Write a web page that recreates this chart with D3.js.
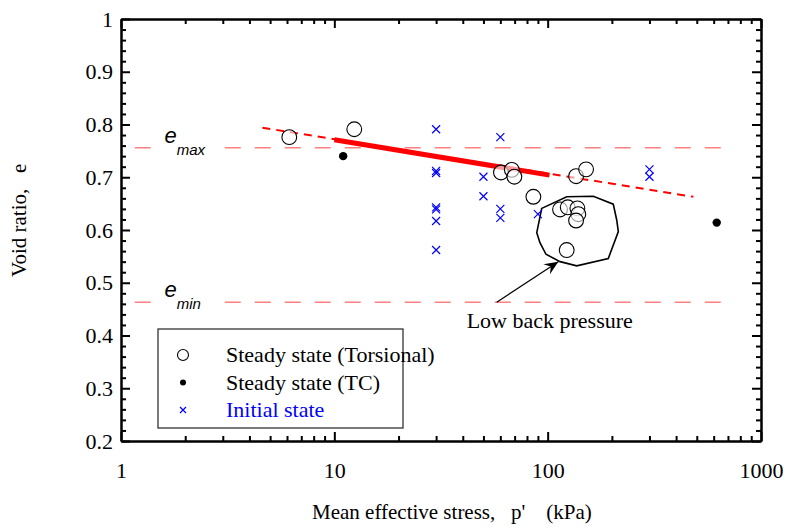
<!DOCTYPE html>
<html>
<head>
<meta charset="utf-8">
<script src="https://cdn.jsdelivr.net/npm/d3@7/dist/d3.min.js"></script>
<style>
  body { margin: 0; background: #fff; }
  svg { display: block; }
  text { font-family: "Liberation Serif", "Times New Roman", serif; }
  .axis path, .axis line { stroke: #000; stroke-width: 2; }
  .axis text { font-size: 22px; fill: #000; }
</style>
</head>
<body>
<svg width="787" height="528"></svg>
<script>
// ---- data ----
var xMajorTicks = [1, 10, 100, 1000];
var yMajorTicks = [0.2, 0.3, 0.4, 0.5, 0.6, 0.7, 0.8, 0.9, 1];

// steady state, torsional tests: [p', e]
var torsional = [
  [6.15, 0.776], [12.4, 0.791], [60.4, 0.709], [67.9, 0.714], [69.8, 0.701],
  [85.7, 0.663], [135.9, 0.702], [151.4, 0.715], [114.3, 0.639], [124.2, 0.643],
  [137.8, 0.641], [139.2, 0.630], [135.9, 0.618], [122.8, 0.562]
];
// steady state, triaxial compression
var triaxial = [[11.0, 0.740], [620, 0.614]];
// initial states
var initial = [
  [30, 0.791], [30, 0.712], [30, 0.708], [30, 0.643], [30, 0.639], [30, 0.617], [30, 0.562],
  [50, 0.701], [50, 0.664],
  [60, 0.776], [60, 0.640], [60, 0.623],
  [90, 0.630],
  [300, 0.715], [300, 0.701]
];

var eMax = 0.756, eMin = 0.463;
var limitRange = [1.16, 690];

var steadyLineDashed = [[4.6, 0.794], [482, 0.663]];
var steadyLineSolid = [[10, 0.771], [102, 0.704]];

// outline around the low back pressure tests
var lowBackOutline = [
  [93.8, 0.641], [122.8, 0.663], [163.7, 0.664], [203, 0.649], [210.7, 0.619],
  [214.4, 0.597], [192.4, 0.546], [136.8, 0.532], [114.3, 0.540], [98.2, 0.554],
  [92, 0.576], [88.9, 0.595]
];
var arrowFrom = [57.7, 0.463], arrowTo = [112.2, 0.540];
var noteAt = [41.7, 0.414];

var legendItems = ["Steady state (Torsional)", "Steady state (TC)", "Initial state"];

// ---- layout ----
var svg = d3.select("svg");
var margin = {top: 19, right: 26, bottom: 87, left: 121},
    width = 787 - margin.left - margin.right,
    height = 528 - margin.top - margin.bottom;

var x = d3.scaleLog().domain([1, 1000]).range([margin.left, margin.left + width]);
var y = d3.scaleLinear().domain([0.2, 1]).range([margin.top + height, margin.top]);

var xMinor = [];
[1, 10, 100].forEach(function(d) { for (var k = 2; k <= 9; k++) xMinor.push(d * k); });
var yMinor = d3.range(0.2, 1.0001, 0.02).filter(function(v) {
  return Math.abs(Math.round(v * 10) - v * 10) > 1e-6;
});

function yFmt(d) { return d === 1 ? "1" : d.toFixed(1); }

// axes, ticks inward
function addAxis(gen, tx, ty) {
  return svg.append("g").attr("class", "axis")
    .attr("transform", "translate(" + tx + "," + ty + ")")
    .call(gen);
}
var bottom = margin.top + height, right = margin.left + width;

addAxis(d3.axisBottom(x).tickValues(xMinor).tickSizeInner(-5).tickSizeOuter(0).tickFormat(""), 0, bottom);
addAxis(d3.axisBottom(x).tickValues(xMajorTicks).tickSizeInner(-9).tickSizeOuter(0)
  .tickPadding(21).tickFormat(d3.format("d")), 0, bottom);
addAxis(d3.axisTop(x).tickValues(xMinor).tickSizeInner(-5).tickSizeOuter(0).tickFormat(""), 0, margin.top);
addAxis(d3.axisTop(x).tickValues(xMajorTicks).tickSizeInner(-9).tickSizeOuter(0).tickFormat(""), 0, margin.top);

addAxis(d3.axisLeft(y).tickValues(yMinor).tickSizeInner(-5).tickSizeOuter(0).tickFormat(""), margin.left, 0);
addAxis(d3.axisLeft(y).tickValues(yMajorTicks).tickSizeInner(-9).tickSizeOuter(0)
  .tickPadding(8).tickFormat(yFmt), margin.left, 0);
addAxis(d3.axisRight(y).tickValues(yMinor).tickSizeInner(-5).tickSizeOuter(0).tickFormat(""), right, 0);
addAxis(d3.axisRight(y).tickValues(yMajorTicks).tickSizeInner(-9).tickSizeOuter(0).tickFormat(""), right, 0);

// axis titles
svg.append("text")
  .attr("x", 312).attr("y", 519)
  .attr("font-size", 21)
  .style("white-space", "pre")
  .text("Mean effective stress,   p'    (kPa)");

svg.append("text")
  .attr("transform", "translate(26,277) rotate(-90)")
  .attr("font-size", 21)
  .style("white-space", "pre")
  .text("Void ratio,   e");

// e_max / e_min reference lines
var plot = svg.append("g");
[[eMax, "max"], [eMin, "min"]].forEach(function(item) {
  plot.append("line")
    .attr("x1", x(limitRange[0])).attr("x2", x(limitRange[1]))
    .attr("y1", y(item[0])).attr("y2", y(item[0]))
    .attr("stroke", "#ff8080").attr("stroke-width", 1.6)
    .attr("stroke-dasharray", "16,14");
  var lab = plot.append("g");
  var t = lab.append("text")
    .attr("x", x(1.6)).attr("y", y(item[0]) - 5)
    .style("font-family", "'Liberation Sans', Arial, sans-serif")
    .style("font-style", "italic");
  t.append("tspan").attr("font-size", 22).text("e");
  t.append("tspan").attr("font-size", 15).attr("dy", 12).text(item[1]);
  var bb = t.node().getBBox();
  lab.insert("rect", "text")
    .attr("x", bb.x - 9).attr("y", bb.y)
    .attr("width", bb.width + 24).attr("height", bb.height)
    .attr("fill", "#fff");
});

// steady state line
var line = d3.line().x(function(d) { return x(d[0]); }).y(function(d) { return y(d[1]); });
plot.append("path").datum(steadyLineDashed)
  .attr("d", line).attr("fill", "none")
  .attr("stroke", "#ff0000").attr("stroke-width", 2)
  .attr("stroke-dasharray", "8,6");
plot.append("path").datum(steadyLineSolid)
  .attr("d", line).attr("fill", "none")
  .attr("stroke", "#ff0000").attr("stroke-width", 5);

// outline and note
plot.append("path").datum(lowBackOutline)
  .attr("d", d3.line().x(function(d) { return x(d[0]); }).y(function(d) { return y(d[1]); })
    .curve(d3.curveLinearClosed))
  .attr("fill", "none").attr("stroke", "#000").attr("stroke-width", 1.6);

svg.append("defs").append("marker")
  .attr("id", "head").attr("viewBox", "-14 -7 16 14")
  .attr("markerWidth", 16).attr("markerHeight", 14)
  .attr("markerUnits", "userSpaceOnUse")
  .attr("refX", 0).attr("refY", 0).attr("orient", "auto")
  .append("path").attr("d", "M0,0 L-14,-6 L-9,0 L-14,6 Z").attr("fill", "#000");

plot.append("line")
  .attr("x1", x(arrowFrom[0])).attr("y1", y(arrowFrom[1]))
  .attr("x2", x(arrowTo[0])).attr("y2", y(arrowTo[1]))
  .attr("stroke", "#000").attr("stroke-width", 1.2)
  .attr("marker-end", "url(#head)");

plot.append("text")
  .attr("x", x(noteAt[0])).attr("y", y(noteAt[1]))
  .attr("font-size", 22)
  .text("Low back pressure");

// symbols
function cross(sel, s) {
  sel.append("path")
    .attr("d", "M" + -s + "," + -s + "L" + s + "," + s + "M" + -s + "," + s + "L" + s + "," + -s)
    .attr("stroke", "#0000ff").attr("stroke-width", 1.2).attr("fill", "none");
}

plot.selectAll(".init").data(initial).enter().append("g")
  .attr("class", "init")
  .attr("transform", function(d) { return "translate(" + x(d[0]) + "," + y(d[1]) + ")"; })
  .each(function() { cross(d3.select(this), 4); });

plot.selectAll(".tors").data(torsional).enter().append("circle")
  .attr("class", "tors")
  .attr("cx", function(d) { return x(d[0]); })
  .attr("cy", function(d) { return y(d[1]); })
  .attr("r", 7.4)
  .attr("fill", "#fff").attr("fill-opacity", 0.6)
  .attr("stroke", "#000").attr("stroke-width", 1.1);

plot.selectAll(".tc").data(triaxial).enter().append("circle")
  .attr("class", "tc")
  .attr("cx", function(d) { return x(d[0]); })
  .attr("cy", function(d) { return y(d[1]); })
  .attr("r", 4.2).attr("fill", "#000");

// legend
var legend = svg.append("g").attr("transform", "translate(158,329)");
legend.append("rect")
  .attr("width", 245).attr("height", 99)
  .attr("fill", "none").attr("stroke", "#333").attr("stroke-width", 1.3);

legendItems.forEach(function(name, i) {
  var row = legend.append("g").attr("transform", "translate(0," + (26 + i * 27.5) + ")");
  if (i === 0) {
    row.append("circle").attr("cx", 25).attr("r", 5.5)
      .attr("fill", "none").attr("stroke", "#000").attr("stroke-width", 1.1);
  } else if (i === 1) {
    row.append("circle").attr("cx", 25).attr("r", 3).attr("fill", "#000");
  } else {
    var c = row.append("g").attr("transform", "translate(25,0)");
    cross(c, 3);
  }
  row.append("text")
    .attr("x", 68).attr("dy", "0.34em")
    .attr("font-size", 22)
    .attr("fill", i === 2 ? "#0000ff" : "#000")
    .text(name);
});
</script>
</body>
</html>
